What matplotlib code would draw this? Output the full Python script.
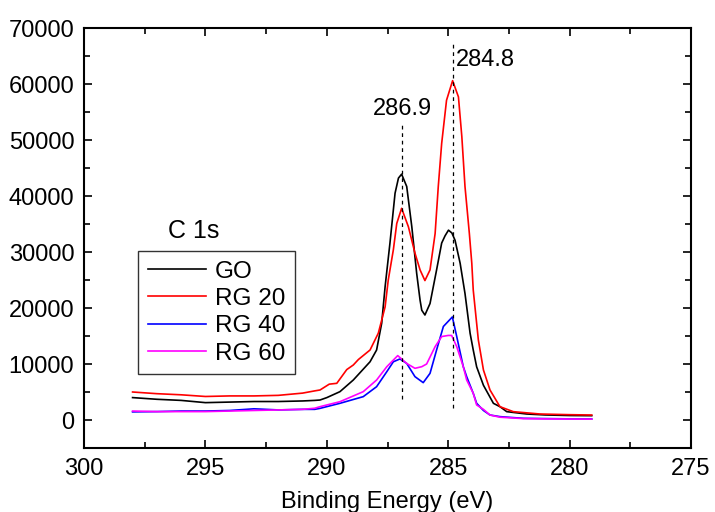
import numpy as np
import matplotlib
matplotlib.use('Agg')
import matplotlib.pyplot as plt
from matplotlib.ticker import MultipleLocator

plt.rcParams['font.family'] = ['Liberation Sans', 'DejaVu Sans']

# ===> data (binding energy in eV, counts)
go_x = [298.0, 297.0, 296.0, 295.0, 294.0, 293.0, 292.0, 291.0, 290.5, 290.28, 290.0, 289.46,
        288.91, 288.22, 287.95, 287.74, 287.60, 287.40, 287.19, 287.05, 286.92, 286.71,
        286.50, 286.30, 286.16, 286.09, 285.96, 285.75, 285.48, 285.27, 285.13, 284.99,
        284.85, 284.72, 284.51, 284.31, 284.10, 283.97, 283.83, 283.55, 283.14, 282.87,
        282.59, 281.77, 281.0, 280.0, 279.09]
go_y = [4000, 3700, 3500, 3100, 3200, 3300, 3300, 3400, 3500, 3570, 4000, 5060,
        7140, 10400, 12500, 17300, 23800, 31600, 40500, 43200, 43900, 41700,
        34500, 26200, 21400, 19600, 18750, 20800, 26800, 31600, 32900, 33900,
        33400, 32100, 28000, 22600, 15500, 12500, 9500, 6200, 2980, 2380,
        1490, 1070, 900, 800, 770]

rg20_x = [298.0, 297.0, 296.0, 295.0, 294.0, 293.0, 292.0, 291.0, 290.5, 290.28, 289.9, 289.59,
          289.18, 288.91, 288.7, 288.22, 287.88, 287.60, 287.47, 287.26, 287.12, 286.92,
          286.64, 286.37, 286.16, 285.96, 285.75, 285.54, 285.41, 285.27, 285.07, 284.82,
          284.58, 284.44, 284.31, 284.13, 284.03, 283.97, 283.76, 283.55, 283.28, 282.87,
          282.32, 281.22, 280.0, 279.09]
rg20_y = [5000, 4700, 4500, 4200, 4300, 4300, 4400, 4800, 5200, 5360, 6400, 6550,
          9000, 9820, 10800, 12500, 15500, 20200, 25000, 30400, 35100, 37800,
          34500, 29800, 26800, 24900, 26800, 33300, 41700, 49400, 57100, 60600,
          57700, 50600, 41700, 33300, 28000, 23200, 14300, 8930, 5360, 2380,
          1490, 1070, 950, 890]

rg40_x = [298.0, 297.0, 296.0, 295.0, 294.0, 293.0, 292.0, 291.0, 290.5, 290.28, 289.46,
          288.50, 287.95, 287.53, 287.26, 286.99, 286.71, 286.37, 286.03, 285.75, 285.48,
          285.20, 284.83, 284.65, 284.38, 284.24, 283.97, 283.83, 283.55, 283.28, 282.87,
          281.91, 281.0, 280.0, 279.09]
rg40_y = [1450, 1500, 1600, 1600, 1700, 2000, 1800, 1900, 1900, 2080, 2980,
          4170, 5950, 8630, 10400, 10900, 10100, 7740, 6670, 8330, 12500,
          16700, 18400, 14900, 9520, 7740, 4770, 2980, 1700, 890, 600,
          300, 250, 200, 180]

rg60_x = [298.0, 297.0, 296.0, 295.0, 294.0, 293.0, 292.0, 291.0, 290.5, 290.28, 289.46,
          288.50, 287.95, 287.53, 287.08, 286.71, 286.37, 286.09, 285.89, 285.54, 285.27,
          285.0, 284.86, 284.65, 284.38, 284.24, 283.97, 283.83, 283.55, 283.28, 282.87,
          281.91, 281.0, 280.0, 279.09]
rg60_y = [1600, 1500, 1500, 1500, 1600, 1700, 1800, 1900, 2100, 2380, 3270,
          5060, 7140, 9520, 11500, 10100, 9230, 9520, 10000, 13100, 14900,
          15100, 15100, 13100, 9520, 7140, 4770, 2680, 1900, 890, 500,
          250, 200, 180, 160]

peaks = [286.9, 284.8]
peak_lines = [(3700, 53200), (2100, 67500)]

fig = plt.figure(figsize=(7.15, 5.12), dpi=100)
ax = fig.add_axes([0.1175, 0.125, 0.849, 0.8203])

ax.plot(go_x, go_y, color='black', lw=1.2, label='GO')
ax.plot(rg20_x, rg20_y, color='red', lw=1.2, label='RG 20')
ax.plot(rg40_x, rg40_y, color='blue', lw=1.2, label='RG 40')
ax.plot(rg60_x, rg60_y, color='magenta', lw=1.2, label='RG 60')

for p, (y0, y1) in zip(peaks, peak_lines):
    ax.plot([p, p], [y0, y1], color='black', lw=0.9, ls=(0, (3, 3)))
ax.text(286.9, 53600, '286.9', fontsize=17, ha='center', va='bottom')
ax.text(284.7, 64300, '284.8', fontsize=17, ha='left', va='center')

ax.set_xlim(300, 275)
ax.set_ylim(-5000, 70000)
ax.xaxis.set_major_locator(MultipleLocator(5))
ax.xaxis.set_minor_locator(MultipleLocator(2.5))
ax.yaxis.set_major_locator(MultipleLocator(10000))
ax.yaxis.set_minor_locator(MultipleLocator(5000))
ax.tick_params(which='both', direction='in', top=True, right=True, labelsize=17, width=1.2)
ax.tick_params(which='major', length=6, pad=7)
ax.tick_params(which='minor', length=4)
for s in ax.spines.values():
    s.set_linewidth(1.5)
ax.set_xlabel('Binding Energy (eV)', fontsize=17, labelpad=8)

leg = ax.legend(loc='upper left', bbox_to_anchor=(0.193, 0.510), bbox_transform=fig.transFigure,
                fontsize=17.5, frameon=True, fancybox=False, borderaxespad=0,
                handlelength=2.4, handletextpad=0.35, labelspacing=0.22, borderpad=0.4)
leg.get_frame().set_edgecolor('black')
leg.get_frame().set_linewidth(1.0)
fig.text(194 / 715, 1 - 231 / 512, 'C 1s', fontsize=18, ha='center', va='center')

fig.savefig('out.png', dpi=100)
